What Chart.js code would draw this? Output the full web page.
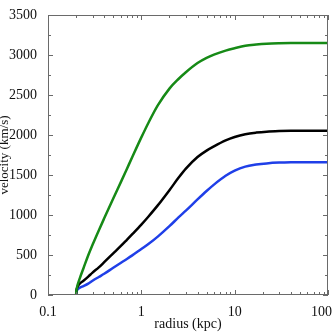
<!DOCTYPE html>
<html lang="en">
<head>
    <meta charset="UTF-8">
    <title>Rotation curves</title>
    <script src="https://cdn.jsdelivr.net/npm/chart.js"></script>
    <style>
        html, body { margin: 0; padding: 0; background: #fff; }
        #wrap { width: 333px; height: 333px; }
    </style>
</head>
<body>
    <div id="wrap"><canvas id="velChart" width="333" height="333"></canvas></div>

    <script>
        // radius (kpc) shared by the three curves
        var radius = [0.2, 0.202, 0.205, 0.21, 0.22, 0.24, 0.27, 0.3, 0.35, 0.4, 0.5, 0.6, 0.7, 0.8, 1, 1.2, 1.5, 2, 2.5, 3, 4, 5, 6, 8, 10, 13, 17, 22, 30, 40, 60, 100];
        var greenVel = [0, 60, 100, 145, 215, 335, 497, 627, 807, 958, 1207, 1405, 1576, 1725, 1970, 2160, 2370, 2580, 2700, 2785, 2900, 2965, 3005, 3055, 3085, 3115, 3130, 3140, 3146, 3149, 3150, 3150];
        var blackVel = [0, 60, 90, 115, 145, 178, 230, 280, 345, 410, 520, 610, 690, 760, 880, 985, 1120, 1310, 1465, 1580, 1725, 1805, 1858, 1932, 1975, 2010, 2030, 2042, 2049, 2052, 2053, 2053];
        var blueVel = [0, 40, 60, 75, 92, 112, 142, 178, 225, 265, 340, 400, 450, 495, 575, 640, 730, 860, 970, 1055, 1195, 1300, 1380, 1490, 1555, 1605, 1630, 1645, 1655, 1659, 1660, 1660];

        var xTickLabels = [0.1, 1, 10, 100];
        var yTickLabels = [0, 500, 1000, 1500, 2000, 2500, 3000, 3500];

        function toPoints(vals) {
            return radius.map(function (r, i) { return { x: r, y: vals[i] }; });
        }

        // frame + inward ticks on all four sides, last x label pulled inside
        var frameTicks = {
            id: 'frameTicks',
            beforeDraw: function (chart) {
                var xs = chart.scales.x;
                var items = xs.getLabelItems(chart.chartArea);
                var last = items[items.length - 1];
                if (last) {
                    last.options.textAlign = 'right';
                    last.options.translation[0] = chart.chartArea.right + 4;
                }
            },
            afterDraw: function (chart) {
                var c = chart.ctx, a = chart.chartArea;
                var xs = chart.scales.x, ys = chart.scales.y;
                c.save();
                c.strokeStyle = '#6a6a6a';
                c.lineWidth = 1;
                c.strokeRect(a.left + 0.5, a.top + 0.5, a.right - a.left - 1, a.bottom - a.top - 1);
                c.beginPath();
                for (var d = 0.1; d <= 100; d *= 10) {
                    for (var m = 1; m <= 9; m++) {
                        var v = d * m;
                        if (v > 100.001) break;
                        var px = Math.round(xs.getPixelForValue(v)) + 0.5;
                        var len = m === 1 ? 5 : 3;
                        c.moveTo(px, a.bottom); c.lineTo(px, a.bottom - len);
                        c.moveTo(px, a.top); c.lineTo(px, a.top + len);
                    }
                }
                for (var y = 0; y <= 3500; y += 250) {
                    var py = Math.round(ys.getPixelForValue(y)) + 0.5;
                    var l = (y % 500 === 0) ? 5 : 3;
                    c.moveTo(a.left, py); c.lineTo(a.left + l, py);
                    c.moveTo(a.right, py); c.lineTo(a.right - l, py);
                }
                c.stroke();
                c.restore();
            }
        };

        var serif = "'Liberation Serif', 'DejaVu Serif', serif";

        var ctx = document.getElementById('velChart').getContext('2d');
        var velChart = new Chart(ctx, {
            type: 'line',
            data: {
                datasets: [
                    { label: 'green', data: toPoints(greenVel), borderColor: '#168a16' },
                    { label: 'black', data: toPoints(blackVel), borderColor: '#000000' },
                    { label: 'blue', data: toPoints(blueVel), borderColor: '#1f3fe8' }
                ]
            },
            options: {
                responsive: false,
                animation: false,
                parsing: false,
                layout: { padding: { top: 15, right: 5, left: 0, bottom: 0 } },
                elements: {
                    point: { radius: 0 },
                    line: { borderWidth: 2.5, cubicInterpolationMode: 'monotone', fill: false }
                },
                plugins: {
                    legend: { display: false },
                    tooltip: { enabled: false }
                },
                scales: {
                    x: {
                        type: 'logarithmic',
                        min: 0.1,
                        max: 100,
                        grid: { display: false },
                        border: { display: false },
                        afterBuildTicks: function (s) {
                            s.ticks = xTickLabels.map(function (v) { return { value: v }; });
                        },
                        afterFit: function (s) { s.height = 38; s.paddingLeft = 0; s.paddingRight = 0; },
                        ticks: {
                            autoSkip: false,
                            maxRotation: 0,
                            padding: 1,
                            color: '#111',
                            font: { family: serif, size: 14 },
                            callback: function (v) { return String(v); }
                        },
                        title: {
                            display: true,
                            text: 'radius (kpc)',
                            color: '#111',
                            font: { family: serif, size: 14 },
                            padding: { top: 2, bottom: 0 }
                        }
                    },
                    y: {
                        min: 0,
                        max: 3500,
                        grid: { display: false },
                        border: { display: false },
                        afterBuildTicks: function (s) {
                            s.ticks = yTickLabels.map(function (v) { return { value: v }; });
                        },
                        afterFit: function (s) { s.width = 48; },
                        ticks: {
                            padding: 3,
                            color: '#111',
                            font: { family: serif, size: 14 },
                            callback: function (v) { return String(v); }
                        },
                        title: {
                            display: true,
                            text: 'velocity (km/s)',
                            color: '#111',
                            font: { family: serif, size: 13, lineHeight: 1 },
                            padding: { top: -2, bottom: 0 }
                        }
                    }
                }
            },
            plugins: [frameTicks]
        });
    </script>
</body>
</html>
